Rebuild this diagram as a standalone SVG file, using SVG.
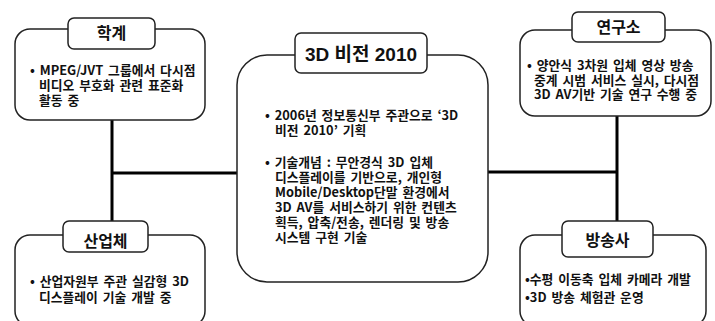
<svg xmlns="http://www.w3.org/2000/svg" width="715" height="321" viewBox="0 0 715 321">
<style>
.box{fill:#fff;stroke:#222;stroke-width:1.5}
.tab{fill:#fff;stroke:#222;stroke-width:1.5}
.conn{stroke:#000;stroke-width:3;fill:none}
.title{font-family:"Noto Sans CJK KR","Noto Sans",sans-serif;font-weight:bold;font-size:16px;fill:#111;text-anchor:middle}
.ctitle{font-family:"Liberation Sans","Noto Sans CJK KR",sans-serif;font-weight:bold;font-size:19px;fill:#111;text-anchor:middle}
.body{font-family:"Noto Sans CJK KR","Noto Sans",sans-serif;font-weight:bold;font-size:12.8px;word-spacing:2px;fill:#111}
</style>
<rect width="715" height="321" fill="#fff"/>
<g id="connectors">
<path class="conn" d="M112 120 V221 M112 173 H238"/>
<path class="conn" d="M617 115 V221 M488 172 H617"/>
</g>
<g id="center">
<rect class="box" x="237" y="55" width="251" height="227" rx="30"/>
<rect class="tab" x="295" y="33" width="132" height="40" rx="6"/>
<text class="ctitle" x="361" y="61">3D 비전 2010</text>
<text class="body"><tspan x="265" y="120">• 2006년 정보통신부 주관으로 ‘3D</tspan><tspan x="275" y="135">비전 2010’ 기획</tspan><tspan x="265" y="167">• 기술개념 : 무안경식 3D 입체</tspan><tspan x="275" y="182">디스플레이를 기반으로, 개인형</tspan><tspan x="275" y="197">Mobile/Desktop단말 환경에서</tspan><tspan x="275" y="212">3D AV를 서비스하기 위한 컨텐츠</tspan><tspan x="275" y="227">획득, 압축/전송, 렌더링 및 방송</tspan><tspan x="275" y="242">시스템 구현 기술</tspan></text>
</g>
<g id="academia">
<rect class="box" x="15" y="29" width="190" height="91" rx="15"/>
<rect class="tab" x="68" y="18" width="87" height="31" rx="6"/>
<text class="title" x="111.5" y="39">학계</text>
<text class="body"><tspan x="30" y="75">• MPEG/JVT 그룹에서 다시점</tspan><tspan x="39" y="90">비디오 부호화 관련 표준화</tspan><tspan x="39" y="105">활동 중</tspan></text>
</g>
<g id="industry">
<rect class="box" x="15" y="235" width="190" height="91" rx="15"/>
<rect class="tab" x="63" y="221" width="85" height="31" rx="6"/>
<text class="title" x="105.5" y="247">산업체</text>
<text class="body"><tspan x="30" y="286">• 산업자원부 주관 실감형 3D</tspan><tspan x="39" y="302">디스플레이 기술 개발 중</tspan></text>
</g>
<g id="institute">
<rect class="box" x="520" y="30" width="191" height="86" rx="15"/>
<rect class="tab" x="572" y="12" width="93" height="30" rx="6"/>
<text class="title" x="618.5" y="33">연구소</text>
<text class="body"><tspan x="527" y="70">• 양안식 3차원 입체 영상 방송</tspan><tspan x="534" y="85">중계 시범 서비스 실시, 다시점</tspan><tspan x="534" y="99">3D AV기반 기술 연구 수행 중</tspan></text>
</g>
<g id="broadcaster">
<rect class="box" x="520" y="235" width="186" height="91" rx="15"/>
<rect class="tab" x="562" y="221" width="91" height="36" rx="6"/>
<text class="title" x="607.5" y="246">방송사</text>
<text class="body"><tspan x="525" y="284">•수평 이동축 입체 카메라 개발</tspan><tspan x="525" y="302">•3D 방송 체험관 운영</tspan></text>
</g>
</svg>
